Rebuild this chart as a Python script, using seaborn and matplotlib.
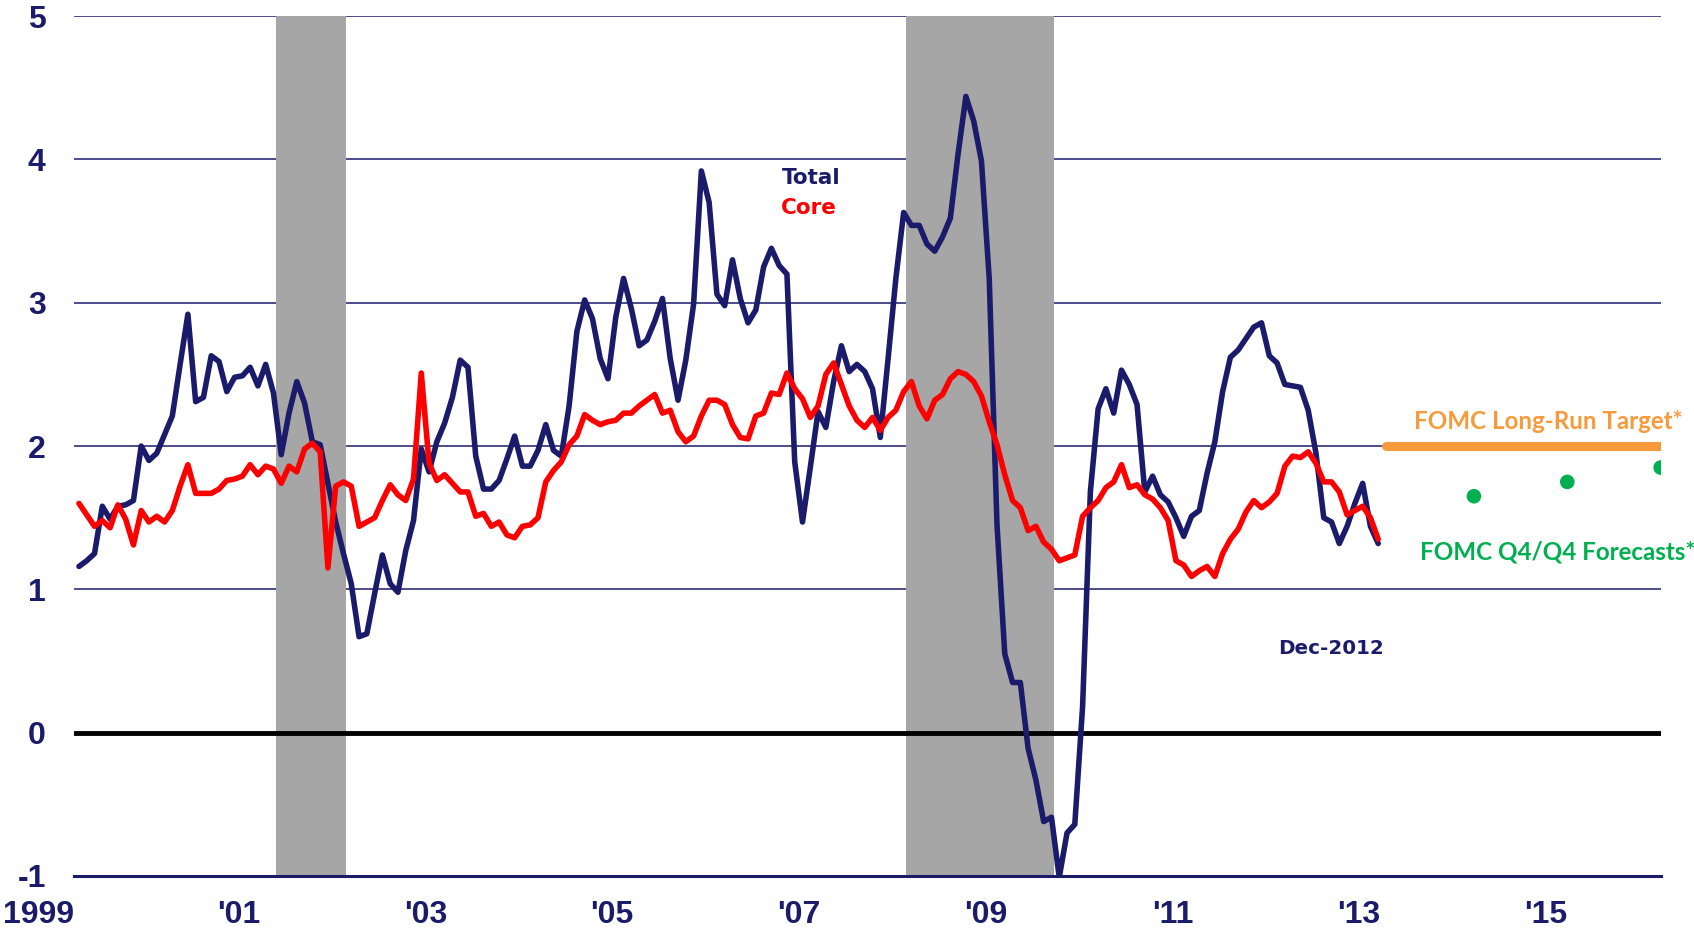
import numpy as np
import pandas as pd
import matplotlib
matplotlib.use('Agg')
import matplotlib.pyplot as plt
import seaborn as sns

# PCE INFLATION, YEAR OVER YEAR, MONTHLY JAN 1999 - DEC 2012

total = [
    1.16, 1.20, 1.25, 1.58, 1.49, 1.58, 1.59, 1.62, 2.00, 1.90, 1.95, 2.08,   # 1999
    2.21, 2.57, 2.92, 2.31, 2.34, 2.63, 2.59, 2.38, 2.48, 2.49, 2.55, 2.42,   # 2000
    2.57, 2.37, 1.94, 2.23, 2.45, 2.30, 2.03, 2.01, 1.74, 1.47, 1.25, 1.04,   # 2001
    0.67, 0.69, 0.97, 1.24, 1.04, 0.98, 1.27, 1.48, 1.98, 1.82, 2.03, 2.16,   # 2002
    2.34, 2.60, 2.55, 1.93, 1.70, 1.70, 1.76, 1.91, 2.07, 1.86, 1.86, 1.97,   # 2003
    2.15, 1.97, 1.93, 2.28, 2.80, 3.02, 2.89, 2.61, 2.47, 2.90, 3.17, 2.96,   # 2004
    2.70, 2.74, 2.87, 3.03, 2.61, 2.32, 2.60, 2.99, 3.92, 3.70, 3.06, 2.98,   # 2005
    3.30, 3.03, 2.86, 2.95, 3.25, 3.38, 3.26, 3.20, 1.89, 1.47, 1.85, 2.24,   # 2006
    2.13, 2.45, 2.70, 2.52, 2.57, 2.52, 2.40, 2.06, 2.61, 3.17, 3.63, 3.54,   # 2007
    3.54, 3.41, 3.36, 3.46, 3.59, 4.04, 4.44, 4.27, 3.99, 3.17, 1.45, 0.55,   # 2008
    0.35, 0.35, -0.11, -0.33, -0.62, -0.59, -1.01, -0.70, -0.64, 0.18, 1.68, 2.26,  # 2009
    2.40, 2.23, 2.53, 2.43, 2.29, 1.68, 1.79, 1.66, 1.61, 1.50, 1.37, 1.51,   # 2010
    1.55, 1.81, 2.03, 2.38, 2.62, 2.67, 2.75, 2.83, 2.86, 2.63, 2.58, 2.43,   # 2011
    2.42, 2.41, 2.25, 1.95, 1.50, 1.47, 1.32, 1.44, 1.60, 1.74, 1.44, 1.32,   # 2012
]

core = [
    1.60, 1.52, 1.44, 1.48, 1.43, 1.59, 1.49, 1.31, 1.55, 1.47, 1.51, 1.47,   # 1999
    1.55, 1.72, 1.87, 1.67, 1.67, 1.67, 1.70, 1.76, 1.77, 1.79, 1.87, 1.80,   # 2000
    1.86, 1.84, 1.74, 1.86, 1.82, 1.98, 2.02, 1.96, 1.15, 1.72, 1.75, 1.72,   # 2001
    1.44, 1.47, 1.50, 1.62, 1.73, 1.66, 1.62, 1.77, 2.51, 1.88, 1.76, 1.80,   # 2002
    1.74, 1.68, 1.68, 1.51, 1.53, 1.44, 1.47, 1.38, 1.36, 1.44, 1.45, 1.50,   # 2003
    1.75, 1.83, 1.89, 2.01, 2.07, 2.22, 2.18, 2.15, 2.17, 2.18, 2.23, 2.23,   # 2004
    2.28, 2.32, 2.36, 2.23, 2.25, 2.10, 2.03, 2.07, 2.21, 2.32, 2.32, 2.29,   # 2005
    2.15, 2.06, 2.05, 2.21, 2.23, 2.37, 2.36, 2.51, 2.40, 2.33, 2.20, 2.28,   # 2006
    2.50, 2.58, 2.43, 2.28, 2.18, 2.13, 2.20, 2.11, 2.20, 2.25, 2.38, 2.45,   # 2007
    2.28, 2.19, 2.32, 2.36, 2.47, 2.52, 2.50, 2.45, 2.35, 2.17, 2.01, 1.80,   # 2008
    1.62, 1.57, 1.41, 1.44, 1.33, 1.28, 1.20, 1.22, 1.24, 1.51, 1.57, 1.62,   # 2009
    1.71, 1.75, 1.87, 1.71, 1.73, 1.66, 1.63, 1.57, 1.48, 1.20, 1.17, 1.09,   # 2010
    1.13, 1.16, 1.09, 1.25, 1.35, 1.42, 1.54, 1.62, 1.57, 1.61, 1.67, 1.86,   # 2011
    1.93, 1.92, 1.96, 1.88, 1.75, 1.75, 1.68, 1.52, 1.55, 1.58, 1.50, 1.35,   # 2012
]

# RECESSIONS (decimal years)
rec_start = [2001.17, 2007.92]
rec_end = [2001.92, 2009.50]

# FOMC STUFF
target_years = [2013.06, 2016.0]
target_values = [2.0, 2.0]
fcst_years = [2014.0, 2015.0, 2016.0]
fcst_values = [1.65, 1.75, 1.85]

yticks = [-1, 0, 1, 2, 3, 4, 5]
xticks = [1999, 2001, 2003, 2005, 2007, 2009, 2011, 2013, 2015]
xlabels = ['1999', "'01", "'03", "'05", "'07", "'09", "'11", "'13", "'15"]

NAVY = '#1B1B6B'
RED = '#FF0000'
GREY = '#A6A6A6'
ORANGE = '#F79A3B'
GREEN = '#00B050'

# monthly points sit a bit into the month
df = pd.DataFrame({
    'date': 1999 + (np.arange(len(total)) + 0.7) / 12,
    'Total': total,
    'Core': core,
})

sns.set_style('white')
fig = plt.figure(figsize=(16.94, 9.30), dpi=100)
ax = fig.add_axes([0.0434, 0.0581, 0.9369, 0.9245])

# GRID AND SHADING

for v in [1, 2, 3, 4, 5]:
    ax.axhline(v, color=NAVY, lw=1.1, zorder=1)
for a, b in zip(rec_start, rec_end):
    ax.axvspan(a, b, color=GREY, lw=0, zorder=2)
ax.axhline(0, color='black', lw=3.5, zorder=3)

# SERIES

sns.lineplot(data=df, x='date', y='Total', color=NAVY, linewidth=4.0, ax=ax, zorder=5)
sns.lineplot(data=df, x='date', y='Core', color=RED, linewidth=4.0, ax=ax, zorder=6)

ax.plot(target_years, target_values, color=ORANGE, lw=6.5, solid_capstyle='round', zorder=5)
sns.scatterplot(x=fcst_years, y=fcst_values, color=GREEN, s=110, edgecolor='none', ax=ax, zorder=6)

# TEXT

ax.text(2006.90, 3.87, 'Total', color=NAVY, fontsize=15.5, fontweight='bold', ha='center', va='center')
ax.text(2006.88, 3.66, 'Core', color=RED, fontsize=15.5, fontweight='bold', ha='center', va='center')
ax.text(2012.47, 0.59, 'Dec-2012', color=NAVY, fontsize=14.3, fontweight='bold', ha='center', va='center')
ax.text(2014.80, 2.17, 'FOMC Long-Run Target*', color=ORANGE, fontsize=17.4, fontweight='bold',
        family=['Lato', 'DejaVu Sans'], ha='center', va='center')
ax.text(2014.90, 1.26, 'FOMC Q4/Q4 Forecasts*', color=GREEN, fontsize=17.4, fontweight='bold',
        family=['Lato', 'DejaVu Sans'], ha='center', va='center', clip_on=False)

# AXES

ax.set_xlim(1999, 2016)
ax.set_ylim(-1, 5)
ax.set_xlabel('')
ax.set_ylabel('')
ax.set_yticks(yticks)
ax.set_yticklabels([str(t) for t in yticks])
ax.set_xticks(xticks)
ax.set_xticklabels(xlabels)
for lab in ax.get_xticklabels() + ax.get_yticklabels():
    lab.set_family(['Liberation Sans', 'DejaVu Sans'])
    lab.set_fontweight('bold')
    lab.set_fontsize(23)
    lab.set_color(NAVY)
for lab in ax.get_xticklabels():
    lab.set_horizontalalignment('right')
ax.tick_params(axis='y', length=0, pad=20)
ax.tick_params(axis='x', length=7, width=1.2, color=NAVY, direction='out', pad=10)

for s in ['top', 'right', 'left']:
    ax.spines[s].set_visible(False)
ax.spines['bottom'].set_color(NAVY)
ax.spines['bottom'].set_linewidth(2.2)
ax.spines['bottom'].set_zorder(4)
ax.grid(False)

fig.savefig('out.png', dpi=100)
